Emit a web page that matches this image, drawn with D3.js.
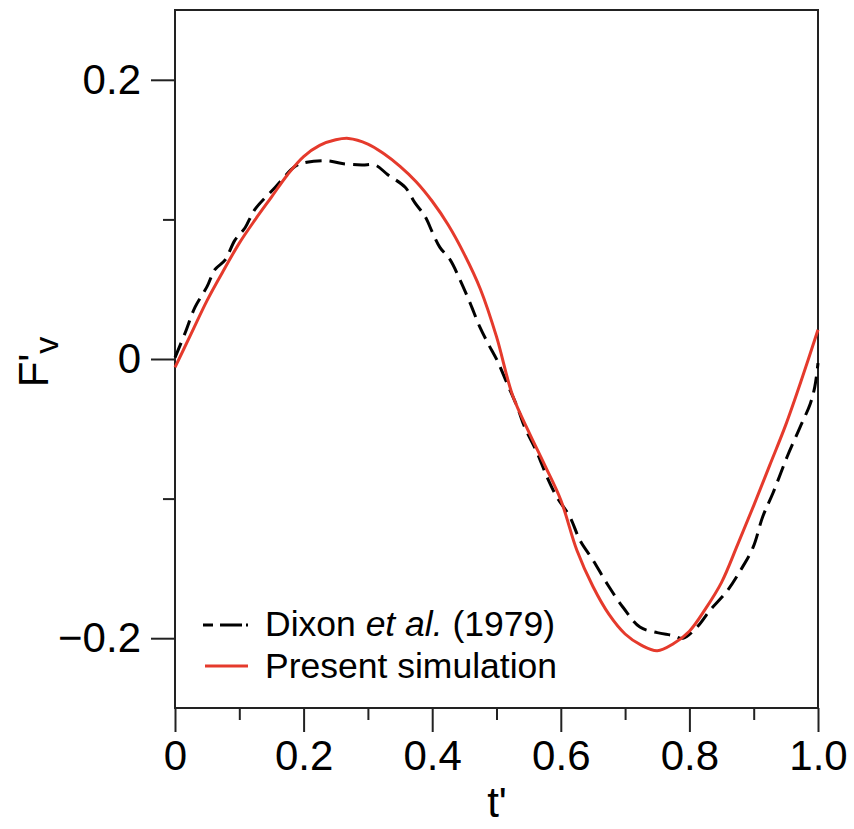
<!DOCTYPE html>
<html>
<head>
<meta charset="utf-8">
<script src="https://cdn.jsdelivr.net/npm/d3@7"></script>
<style>
  html, body { margin: 0; padding: 0; background: #fff; }
  svg { display: block; }
  text { font-family: "Liberation Sans", Arial, Helvetica, sans-serif; fill: #000; }
</style>
</head>
<body>
<svg id="chart" width="854" height="829"></svg>
<script>
// ---- data ----
const dixonT = [0, 0.016, 0.031, 0.05, 0.062, 0.078, 0.093, 0.109, 0.124, 0.156, 0.187, 0.205, 0.238, 0.26, 0.291, 0.311, 0.331, 0.358, 0.373, 0.389, 0.401, 0.412, 0.428, 0.443, 0.459, 0.474, 0.487, 0.501, 0.516, 0.532, 0.544, 0.563, 0.579, 0.594, 0.614, 0.630, 0.650, 0.672, 0.697, 0.723, 0.750, 0.774, 0.790, 0.812, 0.832, 0.859, 0.880, 0.899, 0.914, 0.930, 0.952, 0.972, 0.988, 0.995, 1.0];
const dixonF = [0.001, 0.019, 0.037, 0.052, 0.064, 0.071, 0.085, 0.094, 0.107, 0.123, 0.138, 0.141, 0.142, 0.140, 0.139, 0.139, 0.132, 0.123, 0.112, 0.102, 0.090, 0.080, 0.071, 0.057, 0.040, 0.023, 0.011, -0.001, -0.017, -0.034, -0.049, -0.067, -0.085, -0.099, -0.113, -0.130, -0.144, -0.161, -0.178, -0.192, -0.196, -0.198, -0.200, -0.192, -0.180, -0.166, -0.151, -0.135, -0.113, -0.096, -0.070, -0.049, -0.032, -0.020, -0.003];

const simT = [0, 0.025, 0.05, 0.075, 0.1, 0.125, 0.15, 0.175, 0.2, 0.225, 0.25, 0.27, 0.3, 0.325, 0.35, 0.375, 0.4, 0.425, 0.45, 0.475, 0.5, 0.525, 0.55, 0.575, 0.6, 0.625, 0.65, 0.675, 0.7, 0.725, 0.75, 0.775, 0.8, 0.825, 0.85, 0.875, 0.9, 0.925, 0.95, 0.975, 1.0];
const simF = [-0.006, 0.018, 0.042, 0.063, 0.083, 0.100, 0.116, 0.132, 0.145, 0.153, 0.157, 0.158, 0.154, 0.147, 0.138, 0.127, 0.113, 0.096, 0.075, 0.050, 0.016, -0.026, -0.052, -0.076, -0.101, -0.137, -0.163, -0.183, -0.197, -0.205, -0.209, -0.204, -0.195, -0.179, -0.160, -0.133, -0.105, -0.076, -0.047, -0.014, 0.021];

const xMajorTicks = [0, 0.2, 0.4, 0.6, 0.8, 1.0];
const xMajorLabels = ["0", "0.2", "0.4", "0.6", "0.8", "1.0"];
const xMinorTicks = [0.1, 0.3, 0.5, 0.7, 0.9];
const yMajorTicks = [-0.2, 0, 0.2];
const yMajorLabels = ["\u22120.2", "0", "0.2"];
const yMinorTicks = [-0.1, 0.1];
const seriesNames = ["Dixon ", "et al.", " (1979)", "Present simulation"];

// ---- layout ----
const svg = d3.select("#chart");
const L = 175, R = 818, T = 10, B = 708;
const x = d3.scaleLinear().domain([0, 1]).range([L, R]);
const y = d3.scaleLinear().domain([-0.25, 0.25]).range([B, T]);
const axisColor = "#222";

function styleAxis(g) {
  g.select(".domain").remove();
  g.selectAll(".tick line").attr("stroke", axisColor).attr("stroke-width", 2);
  g.selectAll(".tick text").style("font-size", "42px").attr("fill", "#000");
}
svg.append("g").attr("transform", `translate(0,${B})`)
  .call(d3.axisBottom(x).tickValues(xMajorTicks).tickSize(24).tickPadding(8)
    .tickFormat((d, i) => xMajorLabels[i]))
  .call(styleAxis);
svg.append("g").attr("transform", `translate(0,${B})`)
  .call(d3.axisBottom(x).tickValues(xMinorTicks).tickSize(12).tickFormat(""))
  .call(styleAxis);
svg.append("g").attr("transform", `translate(${L},0)`)
  .call(d3.axisLeft(y).tickValues(yMajorTicks).tickSize(24).tickPadding(10)
    .tickFormat((d, i) => yMajorLabels[i]))
  .call(styleAxis);
svg.append("g").attr("transform", `translate(${L},0)`)
  .call(d3.axisLeft(y).tickValues(yMinorTicks).tickSize(12).tickFormat(""))
  .call(styleAxis);

// frame
svg.append("rect").attr("x", L).attr("y", T).attr("width", R - L).attr("height", B - T)
  .attr("fill", "none").attr("stroke", axisColor).attr("stroke-width", 2);

// curves
const line = d3.line().x(d => x(d[0])).y(d => y(d[1])).curve(d3.curveCatmullRom.alpha(0.5));
const dixon = dixonT.map((t, i) => [t, dixonF[i]]);
const sim = simT.map((t, i) => [t, simF[i]]);

svg.append("path").datum(dixon).attr("d", line)
  .attr("fill", "none").attr("stroke", "#000").attr("stroke-width", 3)
  .attr("stroke-dasharray", "16,8");
svg.append("path").datum(sim).attr("d", line)
  .attr("fill", "none").attr("stroke", "#e53a2c").attr("stroke-width", 3);

// legend
const lg = svg.append("g");
lg.append("line").attr("x1", 203).attr("x2", 248).attr("y1", 625).attr("y2", 625)
  .attr("stroke", "#000").attr("stroke-width", 3).attr("stroke-dasharray", "10,7,22,4,8");
lg.append("line").attr("x1", 205).attr("x2", 248).attr("y1", 666).attr("y2", 666)
  .attr("stroke", "#e53a2c").attr("stroke-width", 3);
const t1 = lg.append("text").attr("x", 265).attr("y", 636).style("font-size", "35.5px");
t1.append("tspan").text(seriesNames[0]);
t1.append("tspan").style("font-style", "italic").text(seriesNames[1]);
t1.append("tspan").text(seriesNames[2]);
lg.append("text").attr("x", 265).attr("y", 678).style("font-size", "35.5px").text(seriesNames[3]);

// axis titles
svg.append("text").attr("x", 497).attr("y", 817).attr("text-anchor", "middle")
  .style("font-size", "42px").text("t'");
const yt = svg.append("text").attr("transform", "translate(48,362) rotate(-90)")
  .attr("text-anchor", "middle").style("font-size", "42px");
yt.append("tspan").text("F'");
yt.append("tspan").attr("dy", 10).style("font-size", "34px").text("v");
</script>
</body>
</html>
